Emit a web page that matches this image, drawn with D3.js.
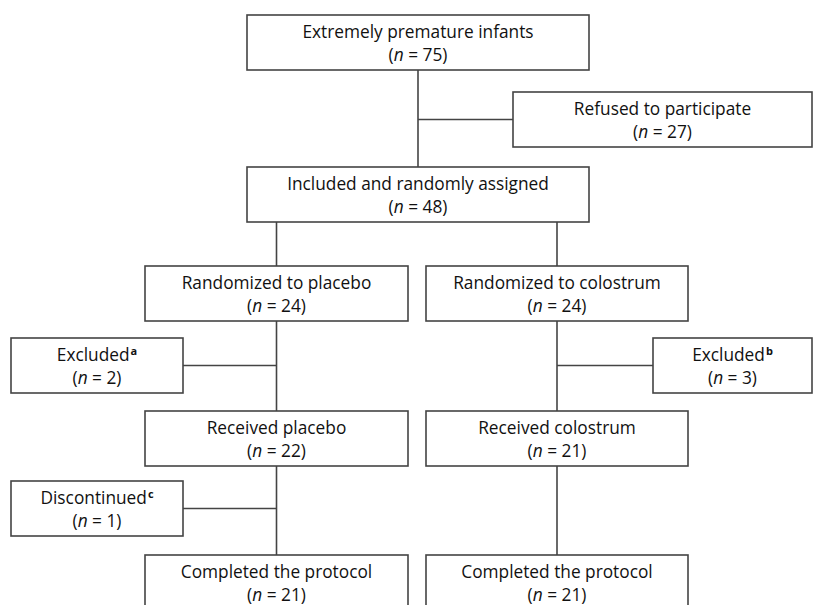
<!DOCTYPE html>
<html lang="en">
<head>
<meta charset="UTF-8">
<title>Flow of participants</title>
<script src="https://d3js.org/d3.v7.min.js"></script>
<style>
    body { margin: 0; background: #fff; overflow: hidden; }
    .box { fill: #fff; stroke: #444; stroke-width: 1.6px; }
    .link { fill: none; stroke: #444; stroke-width: 1.6px; }
    .label { font-family: "Open Sans", "Noto Sans", sans-serif; font-size: 17.3px; fill: #111; }
</style>
</head>
<body>
<div id="chart"></div>
<script>
// box contents
const labels = [
    "Extremely premature infants", "Refused to participate", "Included and randomly assigned",
    "Randomized to placebo", "Randomized to colostrum", "Excluded", "Excluded",
    "Received placebo", "Received colostrum", "Discontinued",
    "Completed the protocol", "Completed the protocol"
];
const counts = [75, 27, 48, 24, 24, 2, 3, 22, 21, 1, 21, 21];
const notes = ["", "", "", "", "", "a", "b", "", "", "c", "", ""];

// where each box sits (column key, row key)
const columns = ["top", "refused", "top", "placebo", "colostrum", "leftSide", "rightSide",
    "placebo", "colostrum", "leftSide", "placebo", "colostrum"];
const rows = ["r0", "r1", "r2", "r3", "r3", "r4", "r4", "r5", "r5", "r6", "r7", "r7"];

// main flow (parent -> child) and side branches (box hanging off a link)
const flow = [[0, 2], [2, 3], [2, 4], [3, 7], [4, 8], [7, 10], [8, 11]];
const branches = [[1, 0], [5, 3], [6, 4], [9, 7]];

const width = 814, height = 605, boxH = 55;

const xLeft = d3.scaleOrdinal()
    .domain(["top", "refused", "placebo", "colostrum", "leftSide", "rightSide"])
    .range([247, 513, 145, 426, 11, 653]);
const xRight = d3.scaleOrdinal()
    .domain(["top", "refused", "placebo", "colostrum", "leftSide", "rightSide"])
    .range([589, 812, 408, 688, 183, 812]);
const yTop = d3.scaleOrdinal()
    .domain(["r0", "r1", "r2", "r3", "r4", "r5", "r6", "r7"])
    .range([15, 92, 167, 266, 338, 411, 481, 555]);

const nodes = labels.map((label, i) => {
    const x0 = xLeft(columns[i]), x1 = xRight(columns[i]), y0 = yTop(rows[i]);
    return { label, n: counts[i], note: notes[i], x0, x1, y0, y1: y0 + boxH,
        cx: (x0 + x1) / 2, cy: y0 + boxH / 2 };
});

const svg = d3.select("#chart").append("svg")
    .attr("width", width)
    .attr("height", height);

// vertical links
svg.selectAll(".flow")
    .data(flow)
    .enter().append("line")
    .attr("class", "link")
    .attr("x1", d => nodes[d[1]].cx)
    .attr("x2", d => nodes[d[1]].cx)
    .attr("y1", d => nodes[d[0]].y1)
    .attr("y2", d => nodes[d[1]].y0);

// side branches, from the trunk to the near edge of the side box
const trunkX = d => nodes[flow.find(f => f[0] === d[1])[1]].cx;
svg.selectAll(".branch")
    .data(branches)
    .enter().append("line")
    .attr("class", "link")
    .attr("x1", trunkX)
    .attr("x2", d => {
        const b = nodes[d[0]];
        return b.cx > trunkX(d) ? b.x0 : b.x1;
    })
    .attr("y1", d => nodes[d[0]].cy)
    .attr("y2", d => nodes[d[0]].cy);

const g = svg.selectAll(".node")
    .data(nodes)
    .enter().append("g");

g.append("rect")
    .attr("class", "box")
    .attr("x", d => d.x0)
    .attr("y", d => d.y0)
    .attr("width", d => d.x1 - d.x0)
    .attr("height", boxH);

const t1 = g.append("text")
    .attr("class", "label")
    .attr("x", d => d.cx)
    .attr("y", d => d.cy - 5)
    .attr("text-anchor", "middle")
    .text(d => d.label);
t1.filter(d => d.note)
    .append("tspan")
    .attr("dx", 1)
    .attr("dy", -6)
    .style("font-size", "11px")
    .style("font-weight", "bold")
    .text(d => d.note);

const t2 = g.append("text")
    .attr("class", "label")
    .attr("x", d => d.cx)
    .attr("y", d => d.cy + 18)
    .attr("text-anchor", "middle");
t2.append("tspan").text("(");
t2.append("tspan").style("font-style", "italic").text("n");
t2.append("tspan").text(d => " = " + d.n + ")");
</script>
</body>
</html>
